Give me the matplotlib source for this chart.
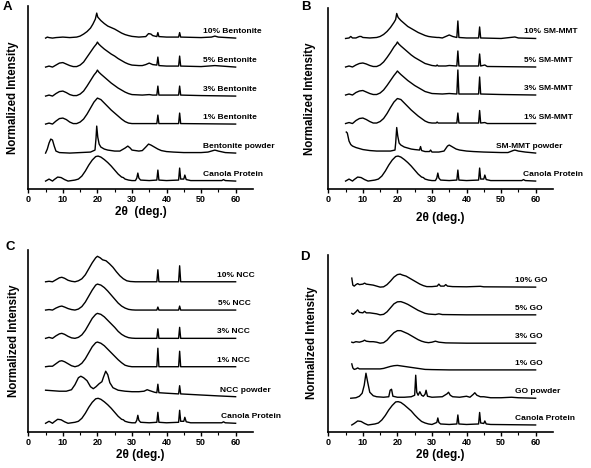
"""XRD patterns of canola protein films with different nanofillers (4 panels)."""

import numpy as np
import matplotlib
matplotlib.use("Agg")
import matplotlib.pyplot as plt

plt.rcParams["font.family"] = ["Liberation Sans", "DejaVu Sans"]
plt.rcParams["font.weight"] = "bold"
plt.rcParams["axes.labelweight"] = "bold"

# ---- data: (2theta, intensity above baseline) ----
canola = [(5, 0), (5.5, 1), (6, 2), (6.5, 1), (7, 0), (7.5, 1.5), (8.5, 4), (9.5, 3.5),
          (10.5, 1.5), (11.5, 0), (12.5, 0.5), (13.5, 1), (14.5, 2), (15.5, 5), (16.5, 10),
          (17.5, 16), (18.5, 21), (19.5, 24.5), (20.2, 25), (21, 24), (22, 21.5), (23, 18.5),
          (24, 15), (25, 11), (26, 7), (27, 4), (27.5, 3.5), (28, 2), (29, 1), (30, 0.5),
          (31, 0.5), (31.4, 3), (31.7, 8), (32, 3), (32.5, 1), (35, 0.5), (37.2, 1), (37.5, 11),
          (37.8, 1), (40, 0.5), (43.5, 1), (43.8, 13), (44.1, 2), (45, 2), (45.3, 6), (45.7, 1.5),
          (47, 0.5), (56, 0.5), (56.5, 1.5), (57, 0.5), (60, 0)]

bent_10 = [(5, 0), (5.5, 1), (6, 0.5), (7, 0), (8, 0.5), (10, 1), (12, 0.5), (14, 1), (15, 2),
           (16, 4), (17, 6.5), (18, 10), (18.7, 14), (19.4, 19), (19.8, 25), (20.1, 21), (21, 17.5),
           (22, 14.5), (23, 12), (24, 10.5), (25, 9), (26, 7), (27, 5), (28, 3.5), (29, 2.5),
           (30, 1.7), (32, 1), (34, 1.5), (34.8, 4.5), (35.5, 4), (36, 2.5), (37.2, 1.5),
           (37.5, 5.5), (37.8, 1.5), (40, 1), (43.5, 1), (43.8, 5.5), (44.1, 1), (50, 0.5),
           (53, 1), (54, 2), (55, 1), (60, 0)]
bent_5 = [(5, 0), (6, 1), (7, 0), (8, 2), (9, 4), (10, 4.5), (11, 3), (12, 1.5), (13, 0.5),
          (14, 0.5), (15, 2), (16, 5), (17, 10), (18, 15), (19, 20), (19.7, 23), (20, 25),
          (20.4, 23), (21, 21), (22, 18), (23, 15.5), (24, 13), (25, 11), (26, 8.5), (27, 6.5),
          (28, 4.5), (29, 3), (30, 2), (32, 1.5), (33, 1.5), (34, 2.5), (35, 4), (36, 2.5),
          (37.2, 2), (37.5, 10), (37.8, 1.5), (40, 1), (43.5, 1), (43.8, 11), (44.1, 1),
          (50, 0.5), (54, 1.5), (60, 0)]
bent_3 = [(5, 0), (6, 1), (7, 0), (8, 2.5), (9, 4.5), (10, 5), (11, 3.5), (12, 1.5), (13, 0.5),
          (14, 0.5), (15, 2), (16, 5), (17, 10), (18, 15.5), (19, 21), (19.7, 24), (20, 26),
          (20.4, 24), (21, 22), (22, 19), (23, 16), (24, 13), (25, 10.5), (26, 8), (27, 6),
          (28, 4), (29, 2.5), (30, 1.5), (33, 1), (35, 1.5), (36, 1), (37.2, 1), (37.5, 10),
          (37.8, 1), (43.5, 1), (43.8, 10), (44.1, 1), (50, 0.5), (60, 0)]
bent_1 = [(5, 0), (6, 1), (7, 0), (8, 3), (9, 5.5), (10, 6), (11, 4.5), (12, 2), (13, 0.5),
          (14, 0.5), (15, 2), (16, 5), (17, 10), (18, 16), (19, 22), (20, 26), (21, 24.5),
          (22, 21), (23, 17.5), (24, 14), (25, 11), (26, 8), (27, 5), (28, 2.5), (29, 1),
          (30, 0.5), (37.2, 0.5), (37.5, 9), (37.8, 0.5), (43.5, 0.5), (43.8, 11), (44.1, 0.5),
          (60, 0)]
bent_powder = [(5, 0), (5.5, 4), (6, 10), (6.5, 14), (7, 13), (7.5, 7), (8, 2), (9, 0.5),
               (12, 0), (15, 0.5), (18, 1), (19.3, 3), (19.6, 15), (19.8, 27), (20.1, 16),
               (20.5, 9), (21, 6), (22, 4), (23, 3), (25, 2), (26.5, 2), (27, 3), (28, 5),
               (28.8, 7), (29.5, 5), (30, 3), (32, 2), (33, 2.5), (34, 6), (34.8, 9), (35.5, 8),
               (36.5, 6), (37.5, 4), (38.5, 2.5), (40, 1.5), (42, 1), (45, 0.5), (50, 0.5),
               (52, 1), (54, 3), (55, 2), (57, 0.5), (60, 0)]

smmt_10 = [(5, 0), (6, 0.5), (6.5, 2), (7, 0.5), (8, 0.5), (9, 2), (9.5, 2), (10, 1), (12, 0.5),
           (14, 1), (15, 2), (16, 4), (17, 7), (18, 11), (19, 16), (19.5, 19), (19.8, 25),
           (20.2, 21), (21, 18), (22, 15), (23, 12), (24, 10), (25, 8), (26, 6), (27, 4.5),
           (28, 3), (29, 2), (30, 1.5), (31.5, 1), (32, 1), (33, 0.5), (34, 2), (35, 3.5),
           (36, 2), (37.2, 1), (37.5, 17.5), (37.8, 1), (40, 0.5), (43.5, 0.5), (43.8, 11.5),
           (44.1, 0.5), (50, 0), (54, 1.5), (55, 0.5), (60, 0)]
smmt_5 = [(5, 0), (6, 1), (7, 0), (8, 2), (9, 3.5), (10, 4), (11, 3), (12, 1.5), (13, 0.5),
          (14, 0.5), (15, 2), (16, 5), (17, 9.5), (18, 14.5), (19, 20), (19.7, 23), (20, 25),
          (20.4, 23), (21, 21), (22, 18), (23, 15), (24, 12), (25, 9.5), (26, 7.5), (27, 5.5),
          (28, 3.5), (29, 2.5), (30, 1.5), (31.2, 1), (31.5, 2), (31.8, 1), (34, 1), (35, 1.5),
          (37.2, 1), (37.5, 16), (37.8, 1), (43.5, 1), (43.8, 13), (44.1, 1), (45.3, 2),
          (46, 0.5), (60, 0)]
smmt_3 = [(5, 0), (6, 1), (7, 0), (8, 2.5), (9, 4), (10, 4.5), (11, 3), (12, 1.5), (13, 0.5),
          (14, 0.5), (15, 2), (16, 5), (17, 9.5), (18, 14.5), (19, 19.5), (19.7, 22.5),
          (20, 24), (20.4, 22.5), (21, 20.5), (22, 17.5), (23, 14.5), (24, 12), (25, 9.5),
          (26, 7.5), (27, 5.5), (28, 3.5), (29, 2.5), (30, 1.5), (33, 1), (35, 1.5), (37.2, 1),
          (37.5, 25), (37.8, 1), (43.5, 1), (43.8, 18), (44.1, 1), (50, 0.5), (60, 0)]
smmt_1 = [(5, 0), (6, 1), (7, 0), (8, 3), (9, 5), (10, 5.5), (11, 4), (12, 2), (13, 0.5),
          (14, 0.5), (15, 2), (16, 5), (17, 10), (18, 16), (19, 21.5), (20, 25), (21, 24),
          (22, 20.5), (23, 17), (24, 13.5), (25, 10.5), (26, 7.5), (27, 5), (28, 2.5), (29, 1),
          (30, 0.5), (31.2, 0.5), (31.5, 1.5), (31.8, 0.5), (37.2, 0.5), (37.5, 10.5),
          (37.8, 0.5), (43.5, 0.5), (43.8, 13), (44.1, 0.5), (45.3, 1), (46, 0), (60, 0)]
smmt_powder = [(5.2, 21), (5.5, 20), (6, 12), (6.5, 8.5), (7, 7), (8, 5.5), (9, 4.5), (10, 3.5),
               (12, 2.5), (14, 2), (16, 2), (18, 2), (19.3, 3), (19.5, 10), (19.8, 25.5),
               (20.1, 17), (20.5, 10), (21, 8), (22, 6), (23, 5), (24, 4), (25, 3.5), (26.4, 3),
               (26.7, 6.5), (27, 2.5), (28, 1.5), (29.3, 1.5), (29.6, 3), (30, 1), (32, 1),
               (33.5, 2), (34.5, 7), (35, 8), (36, 6), (37, 4), (38, 3), (40, 2), (42, 1.5),
               (45, 1), (50, 0.5), (52, 0.5), (53.5, 2.5), (54, 3), (55, 2), (57, 1), (60, 0)]

ncc_10 = [(5, 0), (6, 0.5), (7, 0), (8, 2), (9, 4), (9.7, 4.5), (10.5, 3.5), (11.5, 1.5),
          (12.5, 0.5), (13.5, 0), (14.5, 1), (15.5, 3), (16.5, 7), (17.5, 13), (18.5, 19),
          (19.5, 24), (20, 25.5), (20.8, 24), (21.5, 22), (22.5, 21), (23.5, 18), (24.5, 14.5),
          (25.5, 10), (26.5, 6), (27.5, 3), (28.5, 1), (29.5, 0.3), (31, 0), (37.2, 0),
          (37.5, 12), (37.8, 0), (43.5, 0), (43.8, 16), (44.1, 0), (60, 0)]
ncc_5 = [(5, 0), (6, 0.5), (7, 0), (8, 2), (9, 3.5), (9.7, 4), (10.5, 3), (11.5, 1.5),
         (12.5, 0.5), (13.5, 0), (14.5, 1), (15.5, 3.5), (16.5, 8), (17.5, 14), (18.5, 20),
         (19.5, 25), (20, 26), (21, 25), (22, 22.5), (23, 19), (24, 15), (25, 11), (26, 7),
         (27, 4), (28, 2), (29, 0.7), (30, 0.2), (31, 0), (37.2, 0), (37.5, 3), (37.8, 0),
         (43.5, 0), (43.8, 4), (44.1, 0), (60, 0)]
ncc_3 = [(5, 0), (6, 1), (7, 0), (8, 2.5), (9, 4.5), (9.7, 5), (10.5, 4), (11.5, 2),
         (12.5, 0.5), (13.5, 0), (14.5, 1), (15.5, 3.5), (16.5, 8), (17.5, 14), (18.5, 20),
         (19.5, 24), (20, 25), (21, 24), (22, 21.5), (23, 18), (24, 14.5), (25, 11), (26, 7),
         (27, 4), (28, 2), (29, 0.7), (30, 0.2), (31, 0), (37.2, 0), (37.5, 9.5), (37.8, 0),
         (43.5, 0), (43.8, 11), (44.1, 0), (60, 0)]
ncc_1 = [(5, 0), (6, 0.5), (7, 0.5), (8, 3), (9, 5.5), (9.7, 6), (10.5, 5), (11.5, 3),
         (12.5, 1), (13.5, 0), (14.5, 1), (15.5, 3.5), (16.5, 8), (17.5, 14), (18.5, 20),
         (19.5, 24), (20, 24.7), (21, 23.5), (22, 21), (23, 17.5), (24, 14), (25, 10.5),
         (26, 7), (27, 4), (28, 1.5), (29, 0.5), (30, 0), (37.2, 0), (37.5, 18.5), (37.8, 0),
         (43.5, 0), (43.8, 15.5), (44.1, 0), (60, 0)]
ncc_powder = [(5, 6.5), (7, 6), (9, 5.5), (11, 5.5), (12.5, 7), (13.5, 12), (14.5, 19),
              (15.2, 20.5), (16, 19), (17, 16), (18, 10), (18.8, 8), (19.6, 10), (20.5, 13),
              (21.3, 15), (21.8, 20), (22.4, 25.5), (23, 22), (23.6, 14), (24.5, 9), (26, 6.5),
              (28, 5.5), (30, 5), (32, 5), (33.5, 5.5), (34.4, 7), (35.2, 6), (36.5, 4.5),
              (37.2, 4), (37.5, 12.5), (37.8, 4), (40, 3.5), (43.5, 2.8), (43.8, 11), (44.1, 2.8),
              (50, 1.7), (55, 0.8), (60, 0)]

go_10 = [(6.8, 9), (7.1, 2), (7.5, 1), (8, 2.5), (8.5, 3.5), (9, 2.5), (10, 3), (10.5, 4),
         (11, 3), (12, 2.5), (13, 2), (14, 1), (15, 0), (16, 0.3), (17, 2.5), (18, 6), (19, 10),
         (20, 12.5), (20.8, 13), (21.5, 12), (22.5, 11), (23.5, 9), (24.5, 7), (25.5, 5),
         (26.5, 3), (27.5, 1.5), (28.5, 0.5), (30, 0.5), (31.5, 1), (32, 3), (32.5, 1),
         (33.5, 1), (34, 2.5), (34.5, 1), (36, 0.5), (40, 0.3), (44, 0.8), (45, 0.3), (60, 0)]
go_5 = [(6.8, 1.5), (7.2, 0.5), (8, 3), (8.5, 5), (9, 2.5), (10, 2), (10.5, 3.5), (11, 2),
        (12, 2), (13, 1.5), (14, 1), (15, 0), (16, 0.5), (17, 3), (18, 7), (19, 11), (20, 13),
        (21, 13.2), (22, 12), (23, 10.5), (24, 8.5), (25, 6.5), (26, 4.5), (27, 3), (28, 1.5),
        (29, 0.8), (31, 0.3), (32, 1), (33, 0.3), (40, 0), (60, 0)]
go_3 = [(6.8, 1), (7.2, 0.5), (8, 1.5), (9, 1), (10, 2), (10.5, 3), (11, 2), (12, 1.5),
        (13, 1.5), (14, 1), (15, 0), (16, 0.5), (17, 3), (18, 7), (19, 10.5), (20, 12.5),
        (21, 12.5), (22, 11), (23, 9.5), (24, 7.5), (25, 5.5), (26, 3.5), (27, 2), (28, 1),
        (29, 0.5), (30, 1), (31, 2), (32, 1), (34, 0.3), (40, 0), (60, 0)]
go_1 = [(6.8, 6), (7.1, 2), (7.5, 0.5), (8, 1), (8.5, 2), (9, 1), (10, 1), (12, 1), (14, 1),
        (15, 1), (16, 1.5), (17, 2.5), (18, 3.5), (19, 4.2), (20, 4.5), (21, 4), (22, 3.5),
        (23, 3), (24, 2.5), (25, 2), (26, 1.5), (27, 1), (28, 0.5), (30, 0.3), (35, 0), (60, 0)]
go_powder = [(6.5, 0), (8, 0.5), (9, 2), (9.8, 5), (10.4, 13), (10.9, 25), (11.4, 16), (12, 6),
             (13, 2.5), (14, 1.5), (16, 1), (17.5, 1.5), (17.9, 8), (18.3, 9), (18.7, 2),
             (20, 1), (22, 1), (24, 1.5), (25, 3), (25.3, 23), (25.6, 6), (26, 3), (26.5, 6.5),
             (27, 3), (27.5, 2), (28, 4), (28.3, 8), (28.7, 2), (30, 1), (33, 1.5), (34.4, 4.5),
             (34.8, 6), (35.3, 3), (36, 1.5), (38, 1), (40, 2), (41, 1), (42, 4), (42.4, 5.5),
             (43, 3), (44, 1.5), (45, 1.5), (47, 0.5), (50, 0.5), (53, 1), (55, 0.5), (60, 0)]
go_canola = [(6.8, 0), (7.5, 1.5), (8.5, 4), (9.5, 3.5), (10.5, 1.5), (11.5, 0), (12.5, 0.5),
             (13.5, 1), (14.5, 2), (15.5, 5), (16.5, 9.5), (17.5, 15), (18.5, 19.5), (19.5, 23),
             (20.2, 23.3), (21, 22.5), (22, 20), (23, 17), (24, 14), (25, 10), (26, 6.5),
             (27, 3.5), (28, 2), (29, 1), (30, 0.5), (31.4, 2.5), (31.7, 7), (32, 2.5),
             (32.5, 1), (35, 0.5), (37.2, 1), (37.5, 10), (37.8, 1), (40, 0.5), (43.5, 1),
             (43.8, 12.5), (44.1, 2), (45, 1.5), (45.3, 4), (45.7, 1), (47, 0.5), (60, 0)]

# bottom-to-top ordering
labels_a = ["Canola Protein", "Bentonite powder", "1% Bentonite", "3% Bentonite",
            "5% Bentonite", "10% Bentonite"]
labels_b = ["Canola Protein", "SM-MMT powder", "1% SM-MMT", "3% SM-MMT", "5% SM-MMT",
            "10% SM-MMT"]
labels_c = ["Canola Protein", "NCC powder", "1% NCC", "3% NCC", "5% NCC", "10% NCC"]
labels_d = ["Canola Protein", "GO powder", "1% GO", "3% GO", "5% GO", "10% GO"]

offsets_a = [8, 36, 65, 93, 122, 151]
offsets_b = [8, 36, 65.5, 94, 122, 150.5]
offsets_c = [8.4, 35, 65, 93.4, 121.7, 150]
offsets_d = [6.7, 33.4, 61.7, 88.4, 116.7, 144.4]

fig = plt.figure(figsize=(5.91, 4.68), dpi=100)


def panel(rect, curves, offsets, labels, label_x, ytop, letter, letter_xy, ylab_x, xlab_y,
          xlab="2θ (deg.)"):
    ax = fig.add_axes(rect)
    for pts, off, lab, lx in zip(curves, offsets, labels, label_x):
        xy = np.array(pts, dtype=float)
        ax.plot(xy[:, 0], xy[:, 1] + off, color="black", lw=1.0)
        ax.text(lx, off + 6.5, lab, fontsize=6, fontweight="bold", va="center", ha="left")
    ax.set_xlim(0, 65)
    ax.set_ylim(0, ytop)
    ax.set_xticks(range(0, 61, 10))
    ax.set_xticks(range(5, 60, 10), minor=True)
    ax.set_yticks([])
    ax.tick_params(axis="x", direction="out", length=3, width=1, labelsize=6.5, pad=1.5)
    ax.tick_params(axis="x", which="minor", direction="out", length=1.8, width=0.8)
    for lbl in ax.get_xticklabels():
        lbl.set_fontweight("bold")
    for s in ["top", "right"]:
        ax.spines[s].set_visible(False)
    for s in ["left", "bottom"]:
        ax.spines[s].set_linewidth(1.2)
    ax.set_ylabel("Normalized Intensity", fontsize=8.3, fontweight="bold")
    ax.yaxis.label.set_va("center")
    ax.yaxis.set_label_coords(ylab_x, 0.5)
    ax.set_xlabel(xlab, fontsize=8.5, fontweight="bold")
    ax.xaxis.label.set_va("center")
    ax.xaxis.set_label_coords(0.5, xlab_y)
    fig.text(letter_xy[0], letter_xy[1], letter, fontsize=9.5, fontweight="bold",
             ha="center", va="center")
    return ax


panel([0.0479, 0.596, 0.380, 0.391],
      [canola, bent_powder, bent_1, bent_3, bent_5, bent_10],
      offsets_a, labels_a, [50.5] * 6, 183, "A", (0.0127, 0.984), -0.069, -0.128,
      xlab="2θ  (deg.)")
panel([0.5555, 0.596, 0.380, 0.387],
      [canola, smmt_powder, smmt_1, smmt_3, smmt_5, smmt_10],
      offsets_b, labels_b, [56.3, 48.4, 56.5, 56.5, 56.5, 56.5], 181, "B",
      (0.518, 0.984), -0.08, -0.159)
panel([0.0479, 0.0776, 0.380, 0.388],
      [canola, ncc_powder, ncc_1, ncc_3, ncc_5, ncc_10],
      offsets_c, labels_c, [55.7, 55.5, 54.6, 54.6, 54.8, 54.6], 181.7, "C",
      (0.017, 0.472), -0.063, -0.128)
panel([0.5555, 0.0776, 0.380, 0.378],
      [go_canola, go_powder, go_1, go_3, go_5, go_10],
      offsets_d, labels_d, [54] * 6, 176.7, "D", (0.516, 0.451), -0.072, -0.13)

fig.savefig("out.png", dpi=100)
